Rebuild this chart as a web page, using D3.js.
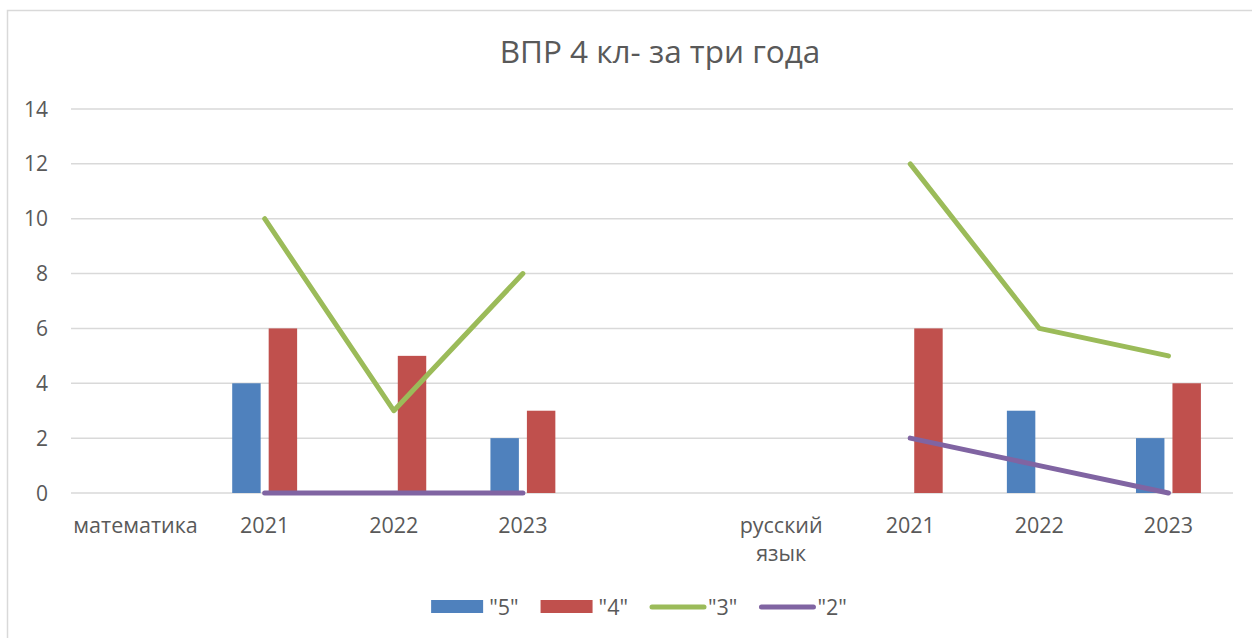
<!DOCTYPE html>
<html>
<head>
<meta charset="utf-8">
<script src="https://cdn.jsdelivr.net/npm/d3@7"></script>
<style>
  body { margin: 0; background: #fff; }
  text { font-family: "Open Sans", sans-serif; fill: #595959; }
</style>
</head>
<body>
<svg id="chart"></svg>
<script>
// data
const categories = ["математика", "2021", "2022", "2023", "", "русский язык", "2021", "2022", "2023"];
const s5 = [null, 4, null, 2, null, null, null, 3, 2];
const s4 = [null, 6, 5, 3, null, null, 6, null, 4];
const s3 = [null, 10, 3, 8, null, null, 12, 6, 5];
const s2 = [null, 0, 0, 0, null, null, 2, 1, 0];
const yTicks = [0, 2, 4, 6, 8, 10, 12, 14];
const seriesNames = ['"5"', '"4"', '"3"', '"2"'];
const colors = ["#4F81BD", "#C0504D", "#9BBB59", "#8064A2"];

const width = 1252, height = 638;
const svg = d3.select("#chart").attr("width", width).attr("height", height);

// chart border (only top/left visible in the reference)
svg.append("rect")
  .attr("x", 7.5).attr("y", 10.5)
  .attr("width", 1400).attr("height", 800)
  .attr("fill", "none").attr("stroke", "#D9D9D9").attr("stroke-width", 1.5);

svg.append("text")
  .attr("x", 660).attr("y", 63)
  .attr("text-anchor", "middle")
  .style("font-size", "31.5px")
  .text("ВПР 4 кл- за три года");

const x0 = d3.scaleBand().domain(d3.range(categories.length)).range([71, 1233]).padding(0);
const x1 = d3.scaleBand().domain([0, 1]).range([0, x0.bandwidth()])
  .paddingInner(0.22).paddingOuter(0.88);
const y = d3.scaleLinear().domain([0, 14]).range([493, 109]);

// gridlines
svg.append("g").selectAll("line")
  .data(yTicks).enter().append("line")
  .attr("x1", 71).attr("x2", 1233)
  .attr("y1", d => y(d)).attr("y2", d => y(d))
  .attr("stroke", "#D9D9D9").attr("stroke-width", 1.5);

// y labels
svg.append("g").selectAll("text")
  .data(yTicks).enter().append("text")
  .attr("x", 48).attr("y", d => y(d))
  .attr("dy", "0.36em")
  .attr("text-anchor", "end")
  .style("font-size", "21px")
  .text(d => d);

// x labels (wrap long ones)
const xl = svg.append("g").selectAll("text")
  .data(categories).enter().append("text")
  .attr("x", (d, i) => x0(i) + x0.bandwidth() / 2)
  .attr("y", 533)
  .attr("text-anchor", "middle")
  .style("font-size", "21.5px");
xl.each(function (d, i) {
  const words = d.split(" ");
  const t = d3.select(this);
  if (d.length > 10 && words.length > 1) {
    words.forEach((w, k) => {
      t.append("tspan").attr("x", x0(i) + x0.bandwidth() / 2)
        .attr("dy", k === 0 ? 0 : 28).text(w);
    });
  } else {
    t.text(d);
  }
});

// bars
[s5, s4].forEach((vals, si) => {
  svg.append("g").selectAll("rect")
    .data(vals.map((v, i) => ({ v, i })).filter(d => d.v !== null))
    .enter().append("rect")
    .attr("x", d => x0(d.i) + x1(si))
    .attr("width", x1.bandwidth())
    .attr("y", d => y(d.v))
    .attr("height", d => y(0) - y(d.v))
    .attr("fill", colors[si]);
});

// lines
const line = d3.line()
  .defined(d => d.v !== null)
  .x(d => x0(d.i) + x0.bandwidth() / 2)
  .y(d => y(d.v));
[s3, s2].forEach((vals, k) => {
  svg.append("path")
    .datum(vals.map((v, i) => ({ v, i })))
    .attr("d", line)
    .attr("fill", "none")
    .attr("stroke", colors[k + 2])
    .attr("stroke-width", 5)
    .attr("stroke-linecap", "round")
    .attr("stroke-linejoin", "round");
});

// legend
const lg = svg.append("g");
let lx = 0;
seriesNames.forEach((name, i) => {
  const g = lg.append("g").attr("transform", `translate(${lx},0)`);
  if (i < 2) {
    g.append("rect").attr("x", 0).attr("y", -7).attr("width", 52).attr("height", 13).attr("fill", colors[i]);
  } else {
    g.append("line").attr("x1", 2).attr("x2", 54).attr("y1", 0).attr("y2", 0)
      .attr("stroke", colors[i]).attr("stroke-width", 5).attr("stroke-linecap", "round");
  }
  const t = g.append("text").attr("x", 58).attr("y", 0).attr("dy", "0.36em")
    .style("font-size", "21.5px").text(name);
  lx += 58 + t.node().getComputedTextLength() + 22;
});
const lw = lx - 22;
lg.attr("transform", `translate(${639 - lw / 2},607)`);
</script>
</body>
</html>
